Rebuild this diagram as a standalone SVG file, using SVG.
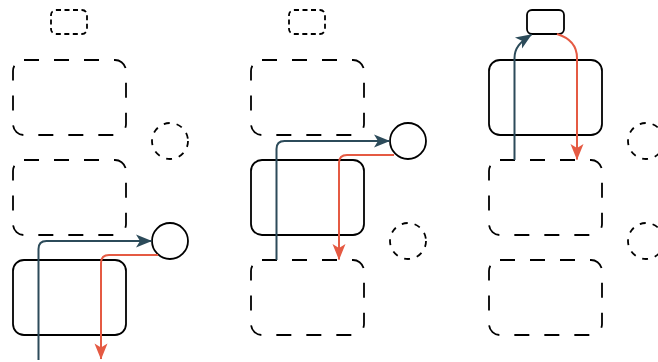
<svg xmlns="http://www.w3.org/2000/svg" width="658" height="362" viewBox="0 0 658 362">
<style>
.n{fill:#fff;stroke:#000;stroke-width:1.8}
.d{stroke-dasharray:15 15}
.ds{stroke-dasharray:5 3.5}
.dc{stroke-dasharray:6 7}
.b{fill:none;stroke:#2c4b5a;stroke-width:2}
.r{fill:none;stroke:#e55a43;stroke-width:2}
</style>
<defs>
<marker id="ab" viewBox="0 0 16 13" refX="15.5" refY="6.5" markerWidth="16" markerHeight="13" markerUnits="userSpaceOnUse" orient="auto" overflow="visible">
<path d="M0,0 L16,6.5 L0,13 L4,6.5 Z" fill="#2c4b5a"/>
</marker>
<marker id="ar" viewBox="0 0 16 13" refX="15.5" refY="6.5" markerWidth="16" markerHeight="13" markerUnits="userSpaceOnUse" orient="auto" overflow="visible">
<path d="M0,0 L16,6.5 L0,13 L4,6.5 Z" fill="#e55a43"/>
</marker>
</defs>
<g id="col1">
<g id="c1-small"><rect class="n ds" x="51" y="10" width="36" height="24" rx="5"/></g>
<g id="c1-box1"><rect class="n d" x="13" y="60" width="113" height="75" rx="11"/></g>
<g id="c1-circ1"><circle class="n dc" cx="170" cy="141" r="18"/></g>
<g id="c1-box2"><rect class="n d" x="13" y="160" width="113" height="75" rx="11"/></g>
<g id="c1-circ2"><circle class="n" cx="170" cy="241" r="18"/></g>
<g id="c1-box3"><rect class="n" x="13" y="260" width="113" height="75" rx="11"/></g>
</g>
<g id="col2">
<g id="c2-small"><rect class="n ds" x="289" y="10" width="36" height="24" rx="5"/></g>
<g id="c2-box1"><rect class="n d" x="251" y="60" width="113" height="75" rx="11"/></g>
<g id="c2-circ1"><circle class="n" cx="408" cy="141" r="18"/></g>
<g id="c2-box2"><rect class="n" x="251" y="160" width="113" height="75" rx="11"/></g>
<g id="c2-circ2"><circle class="n dc" cx="408" cy="241" r="18"/></g>
<g id="c2-box3"><rect class="n d" x="251" y="260" width="113" height="75" rx="11"/></g>
</g>
<g id="col3">
<g id="c3-small"><rect class="n" x="527" y="10" width="37" height="24" rx="5"/></g>
<g id="c3-box1"><rect class="n" x="489" y="60" width="113" height="75" rx="11"/></g>
<g id="c3-circ1"><circle class="n dc" cx="646" cy="141" r="18"/></g>
<g id="c3-box2"><rect class="n d" x="489" y="160" width="113" height="75" rx="11"/></g>
<g id="c3-circ2"><circle class="n dc" cx="646" cy="241" r="18"/></g>
<g id="c3-box3"><rect class="n d" x="489" y="260" width="113" height="75" rx="11"/></g>
</g>
<g id="connectors">
<path class="b" d="M38.5,360 L38.5,249 Q38.5,241 46.5,241 L151.5,241" marker-end="url(#ab)"/>
<path class="r" d="M158,255 L109,255 Q101,255 101,263 L101,359" marker-end="url(#ar)"/>
<path class="b" d="M276.5,260 L276.5,149 Q276.5,141 284.5,141 L389.5,141" marker-end="url(#ab)"/>
<path class="r" d="M394,155 L347,155 Q339,155 339,163 L339,259.5" marker-end="url(#ar)"/>
<path class="b" d="M514.5,160 L514.5,58 C514.5,48 520,42 531.5,34.5" marker-end="url(#ab)"/>
<path class="r" d="M557,34 C570,38 577,46 577,58 L577,159.5" marker-end="url(#ar)"/>
</g>
</svg>
